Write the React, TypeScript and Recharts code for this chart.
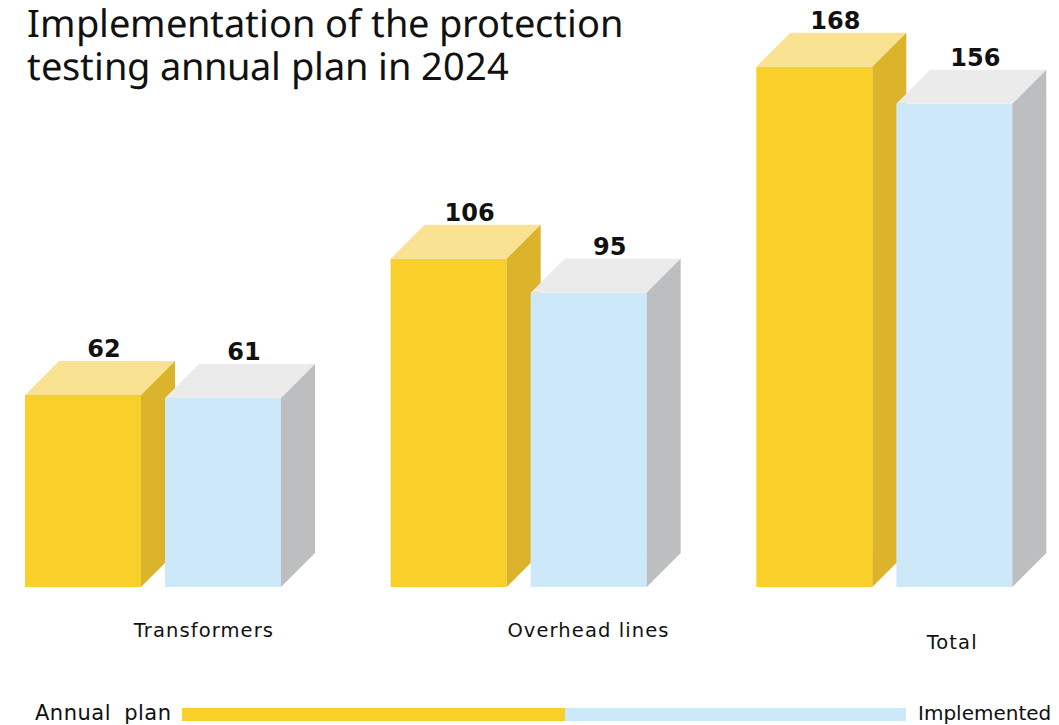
import React from 'react';
import { BarChart, Bar, XAxis, YAxis, LabelList } from 'recharts';

const categories = ['Transformers', 'Overhead lines', 'Total'];
const annualPlan = [62, 106, 168];
const implemented = [61, 95, 156];

const data = categories.map((name, i) => ({
  name,
  plan: annualPlan[i],
  done: implemented[i],
}));

const DEPTH = 34;

// tighter line metrics for the two-line title so the lines don't collide
const fontCss = `
@font-face {
  font-family: 'TitleSans';
  src: local('Noto Sans'), local('NotoSans-Regular');
  ascent-override: 90%;
  descent-override: 22%;
  line-gap-override: 0%;
}
`;

// 3D box: front face, top face and right side face
const makeBox = (front: string, top: string, side: string) => (props: any) => {
  const { x, y, width, height } = props;
  if (width == null || height == null) return null;
  const d = DEPTH;
  return (
    <g>
      <rect x={x} y={y} width={width} height={height} fill={front} />
      <polygon
        points={`${x},${y} ${x + d},${y - d} ${x + width + d},${y - d} ${x + width},${y}`}
        fill={top}
      />
      <polygon
        points={`${x + width},${y} ${x + width + d},${y - d} ${x + width + d},${y + height - d} ${x + width},${y + height}`}
        fill={side}
      />
    </g>
  );
};

const PlanBox = makeBox('#F9CF2A', '#F9E292', '#DCB42C');
const DoneBox = makeBox('#CDE9F9', '#EBEBEB', '#BDBEC0');

const ValueLabel = (props: any) => {
  const { x, y, width, value } = props;
  return (
    <text
      x={x + width / 2 + DEPTH / 2 + 4}
      y={y - DEPTH - 4}
      textAnchor="middle"
      fontFamily="'DejaVu Sans', sans-serif"
      fontWeight="bold"
      fontSize={24}
      fill="#111"
    >
      {value}
    </text>
  );
};

const tickShift = [
  { dx: 51, dy: 0 },
  { dx: 70, dy: 0 },
  { dx: 68, dy: 12 },
];

const CategoryTick = (props: any) => {
  const { x, y, payload, index } = props;
  const s = tickShift[index] || { dx: 0, dy: 0 };
  return (
    <text
      x={x + s.dx}
      y={y + 42 + s.dy}
      textAnchor="middle"
      fontFamily="'DejaVu Sans', sans-serif"
      fontSize={19.5}
      letterSpacing={1.1}
      fill="#111"
    >
      {payload.value}
    </text>
  );
};

const legendText: React.CSSProperties = {
  position: 'absolute',
  top: 700,
  fontFamily: "'DejaVu Sans', sans-serif",
  fontSize: 21,
  lineHeight: '26px',
  letterSpacing: 0.5,
  color: '#111',
  whiteSpace: 'nowrap',
};

const titleLine: React.CSSProperties = {
  position: 'absolute',
  left: 27,
  fontFamily: "'TitleSans', 'Noto Sans', sans-serif",
  fontSize: 38,
  lineHeight: '43px',
  color: '#111',
  whiteSpace: 'nowrap',
};

export default function App() {
  return (
    <div
      style={{
        position: 'absolute',
        left: 0,
        top: 0,
        width: 1059,
        height: 725,
        overflow: 'hidden',
        background: '#fff',
      }}
    >
      <style>{fontCss}</style>
      <BarChart
        width={1067}
        height={725}
        data={data}
        margin={{ top: 29.5, right: 0, bottom: 0, left: -30 }}
        barSize={116}
        barGap={24}
        style={{ position: 'absolute', left: 0, top: 0 }}
      >
        <XAxis
          dataKey="name"
          height={138}
          axisLine={false}
          tickLine={false}
          interval={0}
          tick={<CategoryTick />}
        />
        <YAxis hide domain={[0, 180]} />
        <Bar dataKey="plan" shape={PlanBox} isAnimationActive={false}>
          <LabelList dataKey="plan" content={<ValueLabel />} />
        </Bar>
        <Bar dataKey="done" shape={DoneBox} isAnimationActive={false}>
          <LabelList dataKey="done" content={<ValueLabel />} />
        </Bar>
      </BarChart>

      <div style={{ ...titleLine, top: 3 }}>Implementation of the protection</div>
      <div style={{ ...titleLine, top: 46 }}>testing annual plan in 2024</div>

      <div style={{ ...legendText, left: 35, wordSpacing: 6 }}>Annual plan</div>
      <div style={{ position: 'absolute', left: 182, top: 708, width: 383, height: 13, background: '#F9CF2A' }} />
      <div style={{ position: 'absolute', left: 565, top: 708, width: 341, height: 13, background: '#CDE9F9' }} />
      <div style={{ ...legendText, left: 918, fontSize: 20, letterSpacing: 0 }}>Implemented</div>
    </div>
  );
}
